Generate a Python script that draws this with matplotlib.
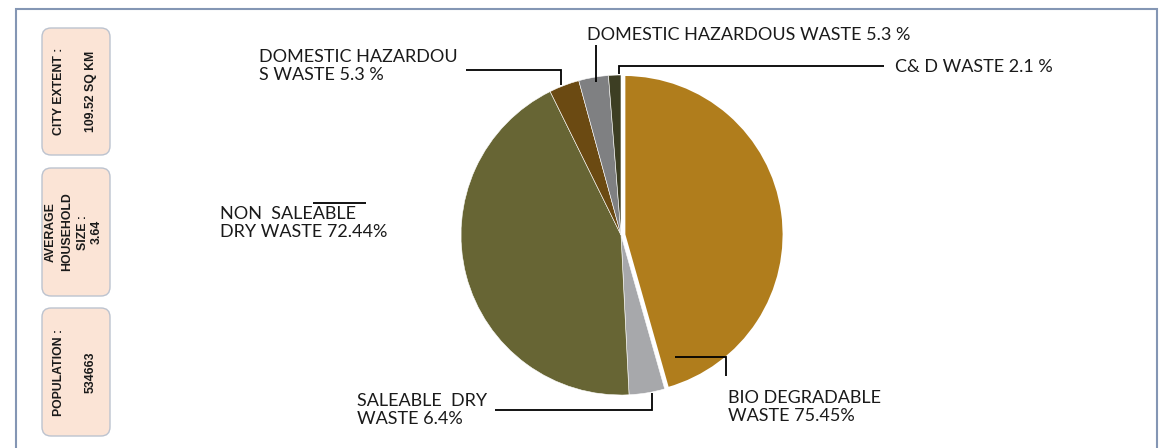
import matplotlib
matplotlib.use("Agg")
import matplotlib.pyplot as plt
from matplotlib.patches import FancyBboxPatch

W, H = 1164, 448

# ---- data ----
categories = ["BIO DEGRADABLE", "SALEABLE DRY", "NON SALEABLE DRY",
              "DOMESTIC HAZARDOUS (1)", "DOMESTIC HAZARDOUS (2)", "C& D"]
shares = [45.6, 3.6, 43.5, 3.05, 3.0, 1.25]
colors = ["#B07D1C", "#A7A8AB", "#676534", "#6B4A12", "#7F8082", "#3D3E23"]
label_texts = [
    "BIO DEGRADABLE\nWASTE 75.45%",
    "SALEABLE  DRY\nWASTE 6.4%",
    "NON  SALEABLE\nDRY WASTE 72.44%",
    "DOMESTIC HAZARDOU\nS WASTE 5.3 %",
    "DOMESTIC HAZARDOUS WASTE 5.3 %",
    "C& D WASTE 2.1 %",
]
info_boxes = [
    ["CITY EXTENT :", "109.52 SQ KM"],
    ["AVERAGE", "HOUSEHOLD", "SIZE :", "3.64"],
    ["POPULATION :", "534663"],
]

fig = plt.figure(figsize=(W / 100, H / 100), dpi=100)
ax = fig.add_axes([0, 0, 1, 1])


def Y(y):
    return H - y


# pie
cx, cy, R = 621, Y(235), 160
wedges, _ = ax.pie(shares, colors=colors, startangle=90, counterclock=False,
                   center=(cx, cy), radius=R, explode=[3, 0, 0, 0, 0, 0],
                   wedgeprops=dict(edgecolor="white", linewidth=0.4))
wedges[0].set_linewidth(2.0)

ax.set_xlim(0, W)
ax.set_ylim(0, H)
ax.set_aspect("equal")
ax.axis("off")

# frame
fc = "#8496B4"
ax.plot([16, 16, 1157, 1157], [Y(448), Y(9), Y(9), Y(448)], color=fc, lw=1.5,
        solid_joinstyle="miter")

# info boxes
box_y = [(28, 155), (168, 296), (308, 436)]
box_font = dict(rotation=90, ha="center", va="center", fontsize=8.8,
                fontweight="bold", family="Liberation Sans", color="#1a1a1a")
for (y0, y1), lines in zip(box_y, info_boxes):
    p = FancyBboxPatch((42, Y(y1)), 68, y1 - y0,
                       boxstyle="round,pad=0,rounding_size=9",
                       facecolor="#FBE4D6", edgecolor="#BCC3CF", lw=1.0)
    ax.add_patch(p)
    yc = Y((y0 + y1) / 2)
    if len(lines) == 2:
        for xx, t in zip([59, 91], lines):
            ax.text(xx, yc, t, **box_font)
    else:
        for xx, t in zip([51, 67, 83, 97], lines):
            ax.text(xx, yc, t, **box_font)

# labels
lab_font = dict(family="Lato", fontsize=13, color="#1a1a1a", linespacing=1.2)
ax.text(728, Y(407), label_texts[0], ha="left", va="center", **lab_font)
ax.text(357, Y(410), label_texts[1], ha="left", va="center", **lab_font)
ax.text(220, Y(223), label_texts[2], ha="left", va="center", **lab_font)
ax.text(259, Y(66), label_texts[3], ha="left", va="center", **lab_font)
ax.text(587, Y(35), label_texts[4], ha="left", va="center", **lab_font)
ax.text(895, Y(67), label_texts[5], ha="left", va="center", **lab_font)

# leader lines
lk = dict(color="black", lw=1.3, solid_capstyle="butt", solid_joinstyle="miter")
ax.plot([675, 726, 726], [Y(357), Y(357), Y(376)], **lk)
ax.plot([495, 652, 652], [Y(410), Y(410), Y(393)], **lk)
ax.plot([313, 366], [Y(203), Y(203)], **lk)
ax.plot([466, 561, 561], [Y(70), Y(70), Y(85)], **lk)
ax.plot([596, 596], [Y(45), Y(82)], **lk)
ax.plot([884, 619, 619], [Y(66), Y(66), Y(74)], **lk)

fig.savefig("out.png", dpi=100)
